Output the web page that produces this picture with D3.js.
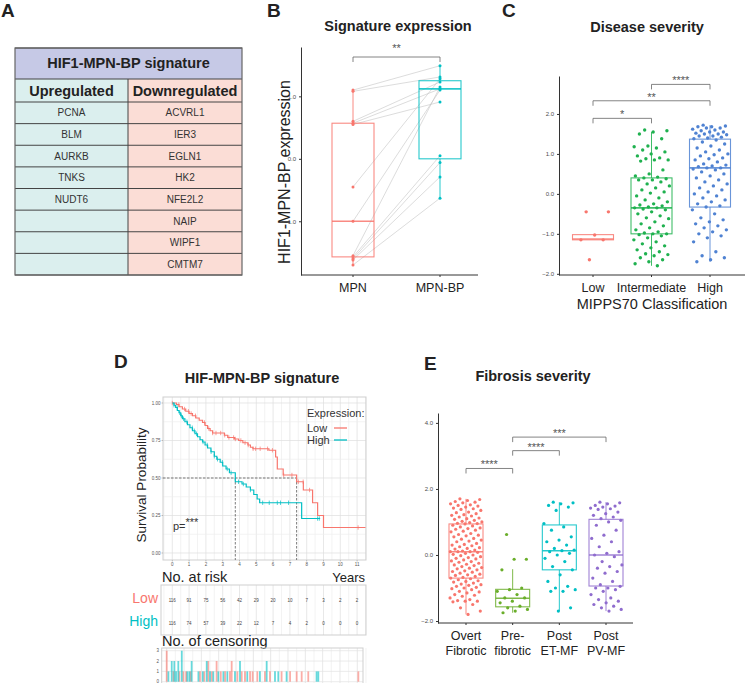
<!DOCTYPE html>
<html>
<head>
<meta charset="utf-8">
<script src="https://cdn.jsdelivr.net/npm/d3@7"></script>
<style>
  body { margin: 0; background: #fff; }
  svg { font-family: "Liberation Sans", Arial, sans-serif; }
</style>
</head>
<body>
<svg id="fig" width="745" height="683"></svg>
<script>
// ---- panel A: gene table
const sigTitle = "HIF1-MPN-BP signature";
const upGenes = ["PCNA", "BLM", "AURKB", "TNKS", "NUDT6", "", "", ""];
const downGenes = ["ACVRL1", "IER3", "EGLN1", "HK2", "NFE2L2", "NAIP", "WIPF1", "CMTM7"];

// ---- panel B: paired samples
const pairGroups = ["MPN", "MPN-BP"];
const mpnVals = [1.1, 1.08, 0.6, 0.57, 0.55, -0.45, -1.0, -1.55, -1.57, -1.6, -1.62, -1.7];
const mpnBpVals = [1.49, 1.31, 1.23, 1.12, 0.91, 1.28, 1.1, 1.15, 0.05, -0.06, -0.29, -0.63];
const pairBox = [[-1.7, -1.57, -1.0, 0.57, 1.1], [-0.63, 0.0, 1.12, 1.25, 1.49]]; // lo,q1,med,q3,hi

// ---- panel C: MIPPS70
const severityCats = ["Low", "Intermediate", "High"];
const sevLow = [-0.45, -0.45, -1.03, -1.15, -1.15, -1.65];
const sevInt = [1.6, 1.58, 1.55, 1.5, 1.38, 1.2, 1.18, 1.15, 1.1, 1.05, 1.0, 0.95, 0.9, 0.88, 0.85, 0.85, 0.82,
  0.6, 0.5, 0.45, 0.42, 0.4, 0.38, 0.35, 0.35, 0.3, 0.25, 0.2, 0.15, 0.1, 0.05, 0.02, -0.05, -0.1, -0.15, -0.2,
  -0.25, -0.28, -0.3, -0.33, -0.35, -0.35, -0.38, -0.4, -0.45, -0.5, -0.55, -0.6, -0.62, -0.7, -0.75, -0.8,
  -0.85, -0.9, -0.95, -0.98, -1.0, -1.0, -1.02, -1.05, -1.1, -1.15, -1.2, -1.25, -1.3, -1.35, -1.4, -1.45,
  -1.5, -1.52, -1.55, -1.6, -1.65, -1.7, -1.75, -1.8];
const sevHigh = [1.72, 1.7, 1.68, 1.68, 1.65, 1.65, 1.62, 1.6, 1.58, 1.55, 1.55, 1.52, 1.5, 1.5, 1.48, 1.45,
  1.45, 1.42, 1.4, 1.38, 1.35, 1.3, 1.25, 1.2, 1.15, 1.1, 1.05, 1.0, 0.98, 0.95, 0.9, 0.88, 0.85, 0.8, 0.75,
  0.72, 0.7, 0.68, 0.65, 0.65, 0.62, 0.6, 0.55, 0.5, 0.45, 0.4, 0.35, 0.3, 0.25, 0.2, 0.15, 0.1, 0.05, 0.0,
  -0.05, -0.1, -0.15, -0.2, -0.25, -0.3, -0.33, -0.4, -0.5, -0.6, -0.65, -0.7, -0.75, -0.8, -0.85, -0.9,
  -0.95, -1.0, -1.05, -1.1, -1.2, -1.45, -1.55, -1.6, -1.65, -1.7];
const severityBox = [[-1.15, -1.15, -1.13, -1.02, -1.02], [-1.8, -1.0, -0.35, 0.4, 1.55], [-1.7, -0.33, 0.65, 1.37, 1.72]];

// ---- panel D: survival
const kmYears = d3.range(0, 12);
const lowTime = [0, 0.25, 0.4, 0.6, 0.8, 1.0, 1.2, 1.4, 1.6, 1.8, 1.95, 2.1, 2.25, 2.4, 3.1, 3.3, 3.7, 3.95, 4.2,
  4.5, 4.65, 4.8, 5.75, 6.15, 6.25, 6.6, 7.4, 7.8, 8.35, 8.65, 9.0, 11.5];
const lowSurv = [1, 0.99, 0.975, 0.96, 0.945, 0.93, 0.915, 0.9, 0.885, 0.87, 0.85, 0.83, 0.815, 0.8, 0.785, 0.77,
  0.76, 0.75, 0.735, 0.72, 0.705, 0.695, 0.685, 0.64, 0.56, 0.52, 0.475, 0.42, 0.335, 0.25, 0.17, 0.17];
const highTime = [0, 0.1, 0.2, 0.3, 0.4, 0.5, 0.6, 0.75, 0.9, 1.05, 1.2, 1.35, 1.5, 1.65, 1.8, 1.95, 2.1, 2.3, 2.5,
  2.65, 2.85, 3.0, 3.2, 3.4, 3.75, 4.15, 4.4, 4.65, 4.85, 5.05, 5.2, 7.7, 8.8];
const highSurv = [1, 0.985, 0.97, 0.95, 0.935, 0.915, 0.895, 0.875, 0.855, 0.835, 0.815, 0.795, 0.775, 0.755,
  0.74, 0.72, 0.7, 0.675, 0.645, 0.625, 0.605, 0.58, 0.56, 0.535, 0.475, 0.46, 0.44, 0.42, 0.39, 0.36, 0.335,
  0.23, 0.23];
const riskLow = [116, 91, 75, 56, 42, 29, 20, 10, 7, 3, 2, 2];
const riskHigh = [116, 74, 57, 39, 22, 12, 7, 4, 2, 0, 0, 0];
const censorTimeLow = [0.0, 0.39, 0.73, 0.96, 1.12, 1.38, 1.92, 2.17, 2.4, 2.6, 2.88, 3.12, 3.37, 3.65, 3.75, 4.08,
  4.33, 4.52, 4.81, 4.96, 5.23, 5.67, 5.96, 6.63, 7.12, 7.5, 7.79, 8.17, 11.06];
const censorCountLow = [3, 1, 1, 1, 1, 1, 1, 1, 2, 1, 2, 1, 1, 1, 2, 1, 1, 1, 1, 1, 1, 1, 1, 1, 1, 1, 1, 1, 1];
const censorTimeHigh = [0.1, 0.29, 0.44, 0.54, 0.67, 0.87, 1.19, 1.31, 1.44, 1.83, 2.08, 2.31, 2.5, 2.69, 2.98,
  3.27, 3.5, 3.94, 4.23, 4.65, 5.38, 5.77, 6.25, 6.44, 6.92, 8.65, 8.75];
const censorCountHigh = [1, 2, 2, 1, 2, 3, 1, 1, 2, 1, 1, 2, 1, 1, 1, 1, 1, 1, 2, 1, 1, 2, 1, 1, 1, 1, 1];

// ---- panel E: fibrosis
const fibCats = ["Overt Fibrotic", "Pre- fibrotic", "Post ET-MF", "Post PV-MF"];
const fibOvert = [1.7, 1.68, 1.65, 1.62, 1.6, 1.58, 1.55, 1.52, 1.5, 1.48, 1.45, 1.42, 1.4, 1.38, 1.35, 1.3, 1.28,
  1.25, 1.22, 1.2, 1.18, 1.15, 1.12, 1.1, 1.08, 1.05, 1.02, 1.0, 0.98, 0.96, 0.95, 0.94, 0.9, 0.88, 0.85, 0.82,
  0.8, 0.78, 0.75, 0.72, 0.7, 0.65, 0.62, 0.6, 0.58, 0.55, 0.5, 0.48, 0.45, 0.42, 0.4, 0.35, 0.32, 0.3, 0.28,
  0.25, 0.22, 0.2, 0.18, 0.15, 0.12, 0.1, 0.1, 0.1, 0.08, 0.05, 0.02, 0.0, -0.02, -0.05, -0.08, -0.1, -0.12,
  -0.15, -0.18, -0.2, -0.22, -0.25, -0.28, -0.3, -0.32, -0.35, -0.38, -0.4, -0.42, -0.45, -0.48, -0.5, -0.52,
  -0.55, -0.58, -0.6, -0.62, -0.65, -0.68, -0.7, -0.72, -0.75, -0.78, -0.8, -0.82, -0.85, -0.88, -0.9, -0.92,
  -0.95, -0.98, -1.0, -1.02, -1.05, -1.1, -1.12, -1.15, -1.2, -1.22, -1.25, -1.3, -1.35, -1.38, -1.4, -1.4,
  -1.42, -1.5, -1.6, -1.7, -1.8];
const fibPre = [0.62, -0.13, -0.13, -0.45, -1.0, -1.05, -1.1, -1.2, -1.3, -1.3, -1.4, -1.45, -1.55, -1.6, -1.65, -1.7, -1.75];
const fibET = [1.6, 1.58, 1.55, 1.5, 1.45, 1.35, 0.95, 0.85, 0.75, 0.55, 0.45, 0.4, 0.3, 0.2, 0.15, 0.13, 0.1,
  0.05, 0.0, -0.1, -0.2, -0.35, -0.45, -0.6, -0.8, -0.95, -1.0, -1.05, -1.1, -1.1, -1.6, -1.7];
const fibPV = [1.6, 1.58, 1.55, 1.5, 1.48, 1.45, 1.42, 1.4, 1.38, 1.3, 1.25, 1.2, 1.15, 1.1, 1.05, 1.0, 0.9, 0.75,
  0.6, 0.5, 0.4, 0.25, 0.1, 0.05, 0.0, -0.05, -0.2, -0.3, -0.35, -0.4, -0.5, -0.55, -0.7, -0.8, -0.9, -0.95,
  -1.0, -1.0, -1.05, -1.1, -1.2, -1.3, -1.35, -1.4, -1.45, -1.5, -1.55, -1.6, -1.65, -1.7];
const fibBox = [[-1.8, -0.7, 0.1, 0.94, 1.7], [-1.75, -1.57, -1.31, -1.04, -0.43], [-1.7, -0.45, 0.13, 0.91, 1.6],
  [-1.7, -0.94, 0.0, 1.08, 1.6]];

const redC = "#F8766D", tealC = "#00BFC4";
const svg = d3.select("#fig");

// deterministic spread for jittered dots
const jit = i => ((i * 0.6180339887 + 0.31) % 1) - 0.5;

function panelLabel(t, x, y) {
  svg.append("text").attr("x", x).attr("y", y).attr("font-size", 19).attr("font-weight", "bold")
    .attr("fill", "#222").text(t);
}
function title(t, x, y) {
  svg.append("text").attr("x", x).attr("y", y).attr("text-anchor", "middle").attr("font-size", 14.5)
    .attr("font-weight", "bold").attr("fill", "#222").text(t);
}
function styleAxis(g) {
  g.selectAll("path,line").attr("stroke", "#333");
  g.selectAll("text").attr("font-size", 6).attr("fill", "#4d4d4d");
}
function bracket(g, x1, x2, yp, label, off) {
  g.append("path").attr("d", `M${x1},${yp + 5}V${yp}H${x2}V${yp + 5}`)
    .attr("fill", "none").attr("stroke", "#666").attr("stroke-width", 0.8);
  g.append("text").attr("x", (x1 + x2) / 2).attr("y", yp - off).attr("text-anchor", "middle")
    .attr("font-size", 11).attr("fill", "#555").text(label);
}
function boxes(g, x, y, cats, box, vals, colors, bw, jw, r) {
  cats.forEach((c, i) => {
    const cx = x(c), [lo, q1, md, q3, hi] = box[i], col = colors[i];
    const s = g.append("g").attr("stroke", col).attr("fill", "none").attr("stroke-opacity", 0.85);
    s.append("line").attr("x1", cx).attr("x2", cx).attr("y1", y(hi)).attr("y2", y(q3)).attr("stroke-width", 1);
    s.append("line").attr("x1", cx).attr("x2", cx).attr("y1", y(q1)).attr("y2", y(lo)).attr("stroke-width", 1);
    s.append("rect").attr("x", cx - bw / 2).attr("y", y(q3)).attr("width", bw)
      .attr("height", Math.max(1, y(q1) - y(q3))).attr("stroke-width", 1.1);
    s.append("line").attr("x1", cx - bw / 2).attr("x2", cx + bw / 2).attr("y1", y(md)).attr("y2", y(md))
      .attr("stroke-width", 1.6);
    if (vals) {
      g.append("g").selectAll("circle").data(vals[i]).join("circle")
        .attr("cx", (d, j) => cx + jit(j) * jw).attr("cy", d => y(d)).attr("r", r).attr("fill", col);
    }
  });
}
function xAxisCats(g, x, x0, x1, y0, cats, lines) {
  g.append("line").attr("x1", x0).attr("x2", x1).attr("y1", y0).attr("y2", y0).attr("stroke", "#333");
  cats.forEach(c => {
    g.append("line").attr("x1", x(c)).attr("x2", x(c)).attr("y1", y0).attr("y2", y0 + 2).attr("stroke", "#333");
    const parts = lines ? c.split(" ") : [c];
    parts.forEach((p, k) => g.append("text").attr("x", x(c)).attr("y", y0 + 17 + k * 15)
      .attr("text-anchor", "middle").attr("font-size", 12.5).attr("fill", "#222").text(p));
  });
}

// ================= A
panelLabel("A", 1, 17);
const gA = svg.append("g");
const rowY = d3.scaleBand().domain(d3.range(downGenes.length)).range([102, 275]);
gA.append("rect").attr("x", 15).attr("y", 48).attr("width", 227).attr("height", 31).attr("fill", "#c6c9e6");
gA.append("rect").attr("x", 15).attr("y", 79).attr("width", 113).attr("height", 196).attr("fill", "#dbefee");
gA.append("rect").attr("x", 128).attr("y", 79).attr("width", 114).attr("height", 196).attr("fill", "#fbddd6");
[48, 79, 102, ...rowY.domain().map(i => rowY(i) + rowY.bandwidth())].forEach(yy =>
  gA.append("line").attr("x1", 15).attr("x2", 242).attr("y1", yy).attr("y2", yy).attr("stroke", "#444").attr("stroke-width", 1));
gA.append("line").attr("x1", 128).attr("x2", 128).attr("y1", 79).attr("y2", 275).attr("stroke", "#444");
gA.append("rect").attr("x", 15).attr("y", 48).attr("width", 227).attr("height", 227)
  .attr("fill", "none").attr("stroke", "#666").attr("stroke-width", 1.2);
gA.append("text").attr("x", 128.5).attr("y", 68).attr("text-anchor", "middle").attr("font-size", 14.5)
  .attr("font-weight", "bold").attr("fill", "#222").text(sigTitle);
gA.append("text").attr("x", 71.5).attr("y", 96).attr("text-anchor", "middle").attr("font-size", 14.5)
  .attr("font-weight", "bold").attr("fill", "#222").text("Upregulated");
gA.append("text").attr("x", 185).attr("y", 96).attr("text-anchor", "middle").attr("font-size", 14.5)
  .attr("font-weight", "bold").attr("fill", "#222").text("Downregulated");
upGenes.forEach((gname, i) => gA.append("text").attr("x", 71.5).attr("y", rowY(i) + rowY.bandwidth() / 2 + 3.6)
  .attr("text-anchor", "middle").attr("font-size", 10).attr("fill", "#333").text(gname));
downGenes.forEach((gname, i) => gA.append("text").attr("x", 185).attr("y", rowY(i) + rowY.bandwidth() / 2 + 3.6)
  .attr("text-anchor", "middle").attr("font-size", 10).attr("fill", "#333").text(gname));

// ================= B
panelLabel("B", 267, 17);
title("Signature expression", 398, 31);
const gB = svg.append("g");
const xB = d3.scalePoint().domain(pairGroups).range([353, 440]);
const yB = d3.scaleLinear().domain([-1.86, 1.79]).range([275, 47]);
gB.append("g").selectAll("line").data(d3.zip(mpnVals, mpnBpVals)).join("line")
  .attr("x1", xB("MPN")).attr("x2", xB("MPN-BP"))
  .attr("y1", d => yB(d[0])).attr("y2", d => yB(d[1]))
  .attr("stroke", "#c4c4c4").attr("stroke-width", 0.6);
boxes(gB, xB, yB, pairGroups, pairBox, [mpnVals, mpnBpVals], [redC, tealC], 42, 0, 1.5);
gB.append("g").attr("transform", "translate(301,0)")
  .call(d3.axisLeft(yB).tickValues([-1, 0, 1]).tickSize(2).tickSizeOuter(0)).call(styleAxis);
xAxisCats(gB, xB, 301, 478, 275, pairGroups, false);
bracket(gB, xB("MPN"), xB("MPN-BP"), 57, "**", 5);
svg.append("text").attr("transform", "translate(290,172) rotate(-90)").attr("text-anchor", "middle")
  .attr("font-size", 16).attr("fill", "#222").text("HIF1-MPN-BP expression");

// ================= C
panelLabel("C", 502, 17);
title("Disease severity", 647, 32);
const gC = svg.append("g");
const xC = d3.scalePoint().domain(severityCats).range([593, 710]);
const yC = d3.scaleLinear().domain([-2.03, 2.95]).range([275, 76]);
boxes(gC, xC, yC, severityCats, severityBox, [sevLow, sevInt, sevHigh], [redC, "#1fb14f", "#4f82d2"], 41, 36, 1.7);
gC.append("g").attr("transform", "translate(559,0)")
  .call(d3.axisLeft(yC).tickValues([-2, -1, 0, 1, 2]).tickSize(2).tickSizeOuter(0)).call(styleAxis);
xAxisCats(gC, xC, 559, 745, 275, severityCats, false);
bracket(gC, xC("Low"), xC("Intermediate"), yC(1.89), "*", 0);
bracket(gC, xC("Low"), xC("High"), yC(2.33), "**", 0);
bracket(gC, xC("Intermediate"), xC("High"), yC(2.74), "****", 0);
svg.append("text").attr("x", 652).attr("y", 309).attr("text-anchor", "middle").attr("font-size", 14.5)
  .attr("fill", "#222").text("MIPPS70 Classification");

// ================= D
panelLabel("D", 114, 368);
title("HIF-MPN-BP signature", 262, 383);
const gD = svg.append("g");
const kmL = 163, kmR = 366, kmT = 397, kmB = 560;
const kmX = d3.scaleLinear().domain([0, 11]).range([172.3, 357.1]);
const kmY = d3.scaleLinear().domain([0, 1]).range([553, 403]);
gD.append("rect").attr("x", kmL).attr("y", kmT).attr("width", kmR - kmL).attr("height", kmB - kmT).attr("fill", "#fff");
d3.range(-0.5, 11.51, 0.5).forEach(t => gD.append("line").attr("x1", kmX(t)).attr("x2", kmX(t))
  .attr("y1", kmT).attr("y2", kmB).attr("stroke", Number.isInteger(t) ? "#dedede" : "#eeeeee").attr("stroke-width", 0.7));
d3.range(0, 1.01, 0.125).forEach(p => gD.append("line").attr("x1", kmL).attr("x2", kmR)
  .attr("y1", kmY(p)).attr("y2", kmY(p)).attr("stroke", (p * 8) % 2 === 0 ? "#dedede" : "#eeeeee").attr("stroke-width", 0.7));
gD.append("rect").attr("x", kmL).attr("y", kmT).attr("width", kmR - kmL).attr("height", kmB - kmT)
  .attr("fill", "none").attr("stroke", "#cfcfcf");
kmYears.forEach(t => {
  gD.append("line").attr("x1", kmX(t)).attr("x2", kmX(t)).attr("y1", kmB).attr("y2", kmB + 1.5).attr("stroke", "#888").attr("stroke-width", 0.5);
  gD.append("text").attr("x", kmX(t)).attr("y", kmB + 5.5).attr("text-anchor", "middle")
    .attr("font-size", 4.5).attr("fill", "#555").text(t);
});
[0, 0.25, 0.5, 0.75, 1].forEach(p => {
  gD.append("line").attr("x1", kmL - 1.5).attr("x2", kmL).attr("y1", kmY(p)).attr("y2", kmY(p)).attr("stroke", "#888").attr("stroke-width", 0.5);
  gD.append("text").attr("x", kmL - 2.5).attr("y", kmY(p) + 1.5).attr("text-anchor", "end")
    .attr("font-size", 4.5).attr("fill", "#555").text(d3.format(".2f")(p));
});
const lowPts = d3.zip(lowTime, lowSurv), highPts = d3.zip(highTime, highSurv);
const medianOf = pts => pts.find(d => d[1] <= 0.5)[0];
const medLow = medianOf(lowPts), medHigh = medianOf(highPts);
const dash = gD.append("g").attr("stroke", "#444").attr("stroke-width", 0.7).attr("stroke-dasharray", "2.5,1.5");
dash.append("line").attr("x1", kmL).attr("x2", kmX(Math.max(medLow, medHigh))).attr("y1", kmY(0.5)).attr("y2", kmY(0.5));
[medLow, medHigh].forEach(m => dash.append("line").attr("x1", kmX(m)).attr("x2", kmX(m)).attr("y1", kmY(0.5)).attr("y2", kmB));
const kmLine = d3.line().curve(d3.curveStepAfter).x(d => kmX(d[0])).y(d => kmY(d[1]));
const survAt = (pts, t) => pts.filter(d => d[0] <= t).pop()[1];
[[lowPts, redC, censorTimeLow], [highPts, tealC, censorTimeHigh]].forEach(([pts, col, ct]) => {
  gD.append("path").attr("d", kmLine(pts)).attr("fill", "none").attr("stroke", col).attr("stroke-width", 1.2);
  gD.append("g").selectAll("line").data(ct).join("line")
    .attr("x1", d => kmX(d)).attr("x2", d => kmX(d))
    .attr("y1", d => kmY(survAt(pts, d)) - 2.2).attr("y2", d => kmY(survAt(pts, d)) + 2.2)
    .attr("stroke", col).attr("stroke-width", 0.7);
});
gD.append("text").attr("x", 307).attr("y", 417).attr("font-size", 11).attr("fill", "#333").text("Expression:");
[["Low", redC, 428], ["High", tealC, 440]].forEach(([t, col, yy]) => {
  gD.append("text").attr("x", 307).attr("y", yy + 4).attr("font-size", 11).attr("fill", "#333").text(t);
  gD.append("line").attr("x1", 334).attr("x2", 347).attr("y1", yy).attr("y2", yy).attr("stroke", col).attr("stroke-width", 1.3);
});
const pTxt = gD.append("text").attr("x", 173).attr("y", 530).attr("font-size", 11).attr("fill", "#333");
pTxt.append("tspan").text("p=");
pTxt.append("tspan").attr("dy", -4).attr("font-size", 11).text("***");
svg.append("text").attr("transform", "translate(146,485) rotate(-90)").attr("text-anchor", "middle")
  .attr("font-size", 13.5).attr("fill", "#222").text("Survival Probability");

// risk table
gD.append("text").attr("x", 162).attr("y", 582).attr("font-size", 14.5).attr("fill", "#222").text("No. at risk");
gD.append("text").attr("x", 365).attr("y", 582).attr("text-anchor", "end").attr("font-size", 13).attr("fill", "#222").text("Years");
const rT = 585, rB = 635;
d3.range(-0.5, 11.51, 0.5).forEach(t => gD.append("line").attr("x1", kmX(t)).attr("x2", kmX(t))
  .attr("y1", rT).attr("y2", rB).attr("stroke", Number.isInteger(t) ? "#dedede" : "#eeeeee").attr("stroke-width", 0.7));
gD.append("rect").attr("x", 161).attr("y", rT).attr("width", 205).attr("height", rB - rT)
  .attr("fill", "none").attr("stroke", "#cfcfcf");
[[riskLow, 600], [riskHigh, 623]].forEach(([arr, yy]) =>
  gD.append("g").selectAll("text").data(arr).join("text")
    .attr("x", (d, i) => kmX(kmYears[i])).attr("y", yy + 1.5).attr("text-anchor", "middle")
    .attr("font-size", 4.5).attr("fill", "#444").text(d => d));
gD.append("text").attr("x", 158).attr("y", 603).attr("text-anchor", "end").attr("font-size", 14).attr("fill", redC).text("Low");
gD.append("text").attr("x", 158).attr("y", 626).attr("text-anchor", "end").attr("font-size", 14).attr("fill", tealC).text("High");

// censoring plot
gD.append("text").attr("x", 162).attr("y", 646).attr("font-size", 14.5).attr("fill", "#222").text("No. of censoring");
const cenX = d3.scaleLinear().domain([0, 11]).range([166.7, 357.3]);
const cenY = d3.scaleLinear().domain([0, 3]).range([681.7, 650.7]);
const cT = 648, cB = 684;
d3.range(0, 11.6, 0.5).forEach(t => gD.append("line").attr("x1", cenX(t)).attr("x2", cenX(t))
  .attr("y1", cT).attr("y2", cB).attr("stroke", Number.isInteger(t) ? "#dedede" : "#eeeeee").attr("stroke-width", 0.7));
[0, 1, 2, 3].forEach(v => {
  gD.append("line").attr("x1", 161.7).attr("x2", 363).attr("y1", cenY(v)).attr("y2", cenY(v)).attr("stroke", "#e2e2e2").attr("stroke-width", 0.7);
  gD.append("text").attr("x", 159).attr("y", cenY(v) + 1.5).attr("text-anchor", "end").attr("font-size", 4.5).attr("fill", "#555").text(v);
});
gD.append("rect").attr("x", 161.7).attr("y", cT).attr("width", 201.3).attr("height", cB - cT)
  .attr("fill", "none").attr("stroke", "#cfcfcf");
[[censorTimeLow, censorCountLow, redC], [censorTimeHigh, censorCountHigh, tealC]].forEach(([ts, cs, col]) =>
  gD.append("g").selectAll("line").data(d3.zip(ts, cs)).join("line")
    .attr("x1", d => cenX(d[0])).attr("x2", d => cenX(d[0]))
    .attr("y1", cenY(0)).attr("y2", d => cenY(d[1]))
    .attr("stroke", col).attr("stroke-width", 1.8).attr("stroke-opacity", 0.6));

// ================= E
panelLabel("E", 424, 370);
title("Fibrosis severity", 533, 381);
const gE = svg.append("g");
const xE = d3.scalePoint().domain(fibCats).range([466, 606]);
const yE = d3.scaleLinear().domain([-2.06, 4.3]).range([623, 413]);
boxes(gE, xE, yE, fibCats, fibBox, [fibOvert, fibPre, fibET, fibPV], [redC, "#6aae2a", tealC, "#8f6cce"], 34, 32, 1.6);
gE.append("g").attr("transform", "translate(438,0)")
  .call(d3.axisLeft(yE).tickValues([-2, 0, 2, 4]).tickSize(2).tickSizeOuter(0)).call(styleAxis);
xAxisCats(gE, xE, 438, 633, 623, fibCats, true);
bracket(gE, xE(fibCats[0]), xE(fibCats[1]), yE(2.62), "****", 0);
bracket(gE, xE(fibCats[1]), xE(fibCats[2]), yE(3.16), "****", 0);
bracket(gE, xE(fibCats[1]), xE(fibCats[3]), yE(3.57), "***", 0);
</script>
</body>
</html>
